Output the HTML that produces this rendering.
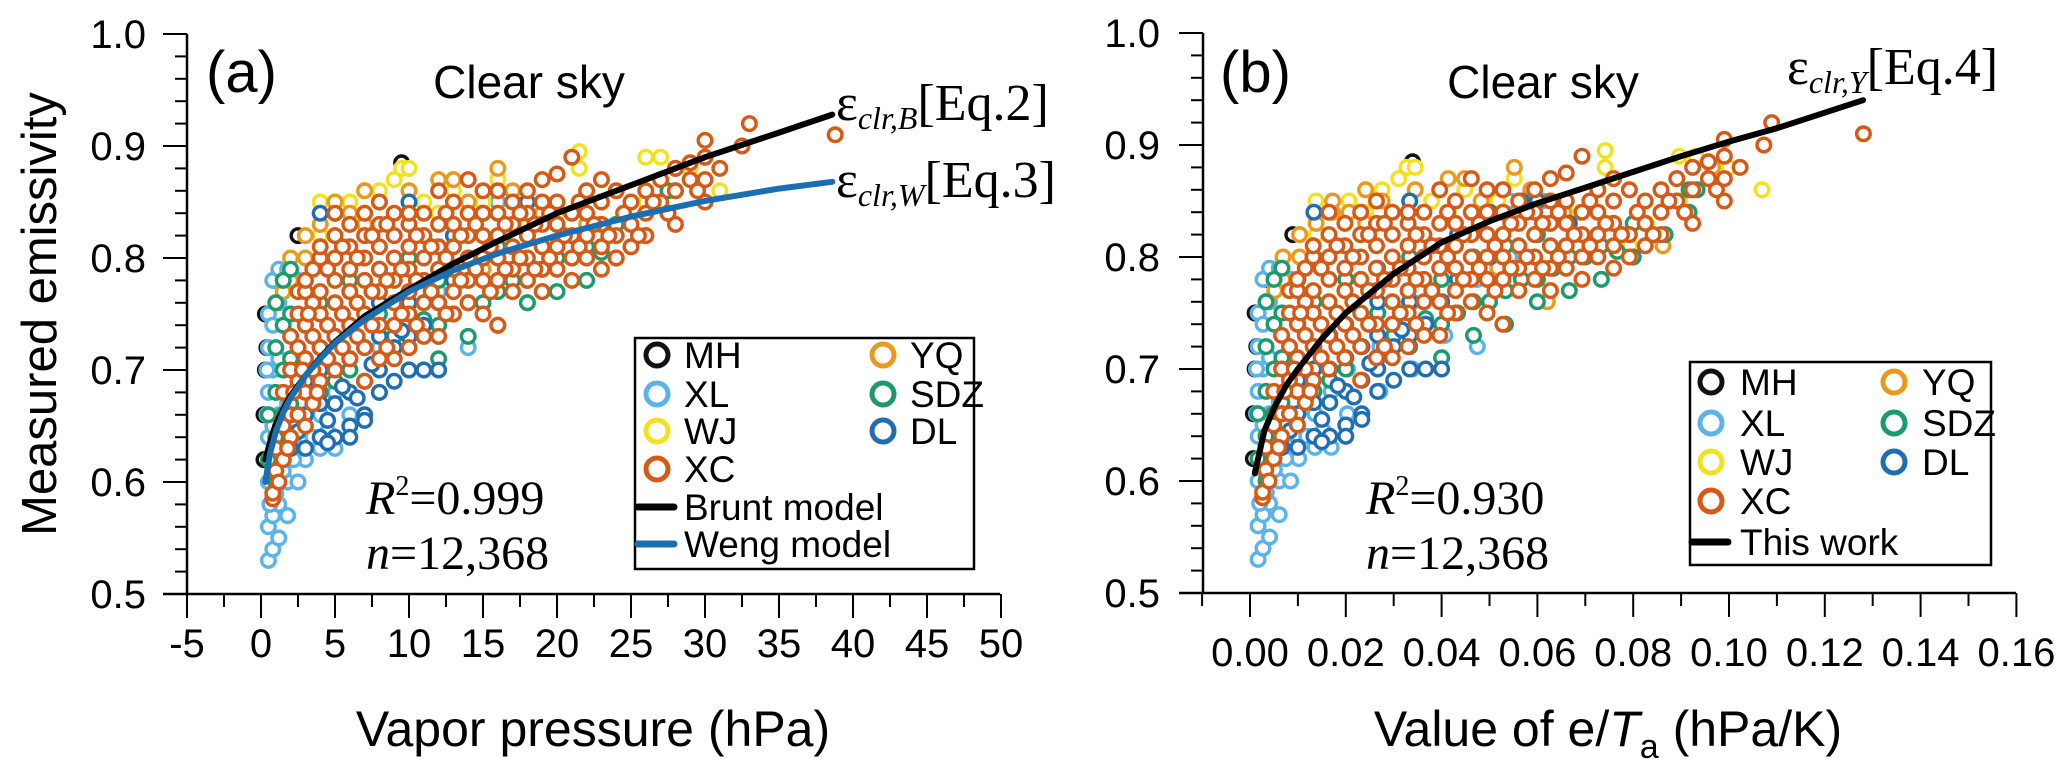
<!DOCTYPE html>
<html><head><meta charset="utf-8"><style>
html,body{margin:0;padding:0;background:#fff;}
svg{display:block;}
text{font-family:"Liberation Sans",Arial,sans-serif;}
.tm{font-family:"Liberation Serif","Times New Roman",serif;}
</style></head><body>
<svg id="chart" width="2067" height="768" viewBox="0 0 2067 768" xmlns="http://www.w3.org/2000/svg">
<g id="pa"></g>
<g id="pb"></g>
</svg>
<script>
// ---- data ----
const siteNames = ["MH","XL","WJ","YQ","SDZ","DL","XC"];
const siteColors = ["#111111","#5ab4ea","#f2e21e","#e99a1c","#1b9b6b","#1f6eb4","#d65a16"];
const siteTa = [280,295,290,290,300,300,303];
const mhPts = [[0.3,0.75],[0.3,0.70],[0.2,0.66],[0.4,0.72],[1,0.78],[2.5,0.82],[9.5,0.885],[0.2,0.62]];
const xlPts = [[0.5,0.53],[0.5,0.56],[0.5,0.60],[0.5,0.64],[0.5,0.68],[0.5,0.72],[0.5,0.75],[0.8,0.54],[0.8,0.57],[0.8,0.61],[0.8,0.65],[0.8,0.70],[0.8,0.74],[0.8,0.78],[1.2,0.55],[1.2,0.58],[1.2,0.62],[1.2,0.66],[1.2,0.71],[1.2,0.76],[1.2,0.79],[1.8,0.57],[1.8,0.60],[1.8,0.63],[1.8,0.67],[1.8,0.79],[2.5,0.60],[2.5,0.63],[2.5,0.66],[2.5,0.78],[3,0.62],[3,0.64],[4,0.63],[4,0.66],[5,0.63],[5,0.68],[6,0.66],[6,0.70],[8,0.68],[8,0.72],[10,0.70],[10,0.76],[12,0.73],[12,0.77],[14,0.72],[14,0.78],[16,0.80],[16,0.85],[18,0.85],[0.6,0.58],[1,0.59],[1.5,0.61],[2.2,0.62],[3.5,0.64],[4.5,0.645],[0.4,0.7],[0.4,0.66]];
const wjPts = [[4,0.82],[4,0.85],[5,0.84],[6,0.85],[7,0.86],[7,0.84],[8,0.86],[9,0.87],[9.5,0.88],[10,0.88],[11,0.85],[12,0.84],[13,0.86],[14,0.84],[15,0.85],[16,0.87],[18,0.83],[20,0.84],[21.5,0.895],[21.5,0.88],[23,0.81],[24,0.83],[26,0.89],[26,0.85],[27,0.89],[29,0.88],[31,0.86]];
const yqPts = [[1,0.76],[1.5,0.77],[2,0.78],[2,0.80],[3,0.80],[3,0.82],[4,0.83],[5,0.84],[5,0.85],[6,0.84],[7,0.86],[7,0.83],[8,0.85],[10,0.86],[12,0.87],[13,0.87],[14,0.85],[16,0.88],[17,0.86],[19,0.84],[22,0.83],[25,0.81],[28,0.88],[18,0.76],[15,0.79]];
const sdzPts = [[0.5,0.62],[0.5,0.66],[1,0.60],[1,0.64],[1,0.68],[1,0.72],[1,0.76],[1.5,0.62],[1.5,0.66],[1.5,0.70],[1.5,0.74],[1.5,0.78],[2,0.63],[2,0.67],[2,0.71],[2,0.75],[2,0.79],[3,0.66],[3,0.70],[3,0.74],[3,0.78],[4,0.68],[4,0.72],[4,0.76],[4,0.80],[6,0.70],[6,0.74],[6,0.78],[8,0.71],[8,0.75],[8,0.79],[10,0.72],[10,0.76],[10,0.80],[12,0.71],[12,0.74],[12,0.78],[14,0.73],[14,0.76],[14,0.80],[16,0.74],[16,0.77],[16,0.81],[18,0.76],[18,0.78],[18,0.82],[20,0.77],[20,0.80],[22,0.78],[22,0.81],[24,0.80],[24,0.83],[26,0.82],[27.5,0.86],[27.5,0.84],[28,0.86],[5,0.69],[7,0.72],[9,0.73],[11,0.745],[13,0.75],[15,0.76],[17,0.78],[19,0.79],[21,0.80],[23,0.805]];
const dlPts = [[2,0.63],[2,0.66],[3,0.63],[3,0.66],[3,0.69],[4,0.64],[4,0.67],[4,0.70],[5,0.64],[5,0.67],[5,0.70],[5,0.73],[6,0.65],[6,0.68],[6,0.71],[7,0.66],[7,0.69],[7,0.72],[8,0.68],[8,0.70],[8,0.73],[8,0.76],[9,0.69],[9,0.72],[10,0.70],[10,0.73],[10,0.76],[11,0.70],[11,0.74],[12,0.70],[12,0.76],[13,0.78],[13,0.82],[15,0.80],[15,0.84],[17,0.85],[18,0.85],[10,0.85],[4,0.84],[20,0.83],[2.5,0.645],[3.5,0.675],[4.5,0.655],[5.5,0.685],[6.5,0.675],[7.5,0.705],[8.5,0.715],[9.5,0.735],[6,0.64],[4.5,0.635],[7,0.655]];
const xcPts = [[0.8,0.585],[0.8,0.59],[1,0.61],[1,0.63],[1.5,0.62],[1.5,0.65],[1.5,0.68],[2,0.64],[2,0.66],[2,0.70],[2,0.73],[2.5,0.66],[2.5,0.69],[2.5,0.72],[2.5,0.75],[2.5,0.77],[3,0.65],[3,0.68],[3,0.71],[3,0.74],[3,0.77],[3,0.78],[3.5,0.67],[3.5,0.70],[3.5,0.73],[3.5,0.76],[3.5,0.79],[4,0.69],[4,0.72],[4,0.75],[4,0.77],[4,0.80],[4,0.81],[5,0.70],[5,0.73],[5,0.76],[5,0.78],[5,0.80],[5,0.82],[5,0.84],[6,0.71],[6,0.74],[6,0.77],[6,0.79],[6,0.81],[6,0.83],[7,0.69],[7,0.72],[7,0.75],[7,0.78],[7,0.80],[7,0.82],[7,0.84],[8,0.71],[8,0.74],[8,0.77],[8,0.79],[8,0.81],[8,0.83],[8,0.85],[9,0.71],[9,0.74],[9,0.76],[9,0.78],[9,0.80],[9,0.82],[9,0.84],[10,0.72],[10,0.75],[10,0.77],[10,0.79],[10,0.81],[10,0.83],[10,0.84],[11,0.73],[11,0.76],[11,0.78],[11,0.80],[11,0.82],[11,0.84],[12,0.73],[12,0.76],[12,0.79],[12,0.81],[12,0.83],[12,0.86],[13,0.75],[13,0.77],[13,0.79],[13,0.81],[13,0.83],[13,0.85],[14,0.76],[14,0.78],[14,0.80],[14,0.82],[14,0.84],[14,0.87],[15,0.75],[15,0.78],[15,0.80],[15,0.82],[15,0.84],[15,0.86],[16,0.74],[16,0.78],[16,0.80],[16,0.82],[16,0.84],[16,0.86],[17,0.77],[17,0.79],[17,0.81],[17,0.83],[17,0.85],[18,0.78],[18,0.80],[18,0.82],[18,0.84],[18,0.86],[19,0.77],[19,0.79],[19,0.81],[19,0.83],[19,0.85],[19,0.87],[20,0.79],[20,0.81],[20,0.83],[20,0.85],[20,0.875],[21,0.78],[21,0.80],[21,0.82],[21,0.84],[21,0.89],[22,0.80],[22,0.82],[22,0.84],[22,0.86],[23,0.79],[23,0.81],[23,0.83],[23,0.85],[23,0.87],[24,0.80],[24,0.82],[24,0.86],[25,0.81],[25,0.83],[25,0.85],[26,0.82],[26,0.84],[26,0.86],[27,0.85],[27,0.87],[28,0.83],[28,0.86],[28,0.88],[29,0.87],[29,0.885],[30,0.85],[30,0.87],[30,0.89],[30,0.905],[31,0.88],[32.5,0.90],[33,0.92],[38.8,0.91],
[1.2,0.60],[1.8,0.63],[2.2,0.68],[2.8,0.70],[3.2,0.75],[3.8,0.68],[4.5,0.71],[4.5,0.74],[4.5,0.79],[5.5,0.72],[5.5,0.75],[5.5,0.81],[6.5,0.73],[6.5,0.76],[6.5,0.80],[7.5,0.74],[7.5,0.77],[7.5,0.82],[8.5,0.72],[8.5,0.78],[8.5,0.83],[9.5,0.75],[9.5,0.79],[10.5,0.74],[10.5,0.78],[10.5,0.82],[11.5,0.77],[11.5,0.81],[12.5,0.75],[12.5,0.80],[12.5,0.84],[13.5,0.78],[13.5,0.82],[14.5,0.79],[14.5,0.83],[15.5,0.77],[15.5,0.81],[16.5,0.79],[16.5,0.83],[17.5,0.80],[17.5,0.84],[18.5,0.79],[18.5,0.83],[19.5,0.80],[19.5,0.84],[20.5,0.82],[21.5,0.81],[21.5,0.85],[22.5,0.83],[23.5,0.82],[24.5,0.84],[25.5,0.82],[26.5,0.85],[27.5,0.84],[29.5,0.86]];
const sitePts = [mhPts,xlPts,wjPts,yqPts,sdzPts,dlPts,xcPts];
const bruntE = [0.3,0.6,1,1.5,2,3,4,5,7,10,13,16,20,25,30,35,38.6];
const bruntV = [0.62,0.635,0.652,0.665,0.677,0.695,0.711,0.725,0.748,0.772,0.795,0.815,0.84,0.865,0.89,0.912,0.928];
const wengE = [0.3,0.6,1,1.5,2,3,4,5,7,10,13,16,20,25,30,35,38.6];
const wengV = [0.60,0.625,0.645,0.662,0.675,0.695,0.71,0.724,0.745,0.77,0.789,0.804,0.82,0.837,0.851,0.862,0.868];
const workX = [0.001,0.003,0.005,0.0075,0.01,0.015,0.02,0.03,0.04,0.05,0.06,0.07,0.08,0.09,0.10,0.11,0.128];
const workV = [0.607,0.645,0.665,0.685,0.70,0.727,0.75,0.785,0.813,0.832,0.848,0.862,0.876,0.89,0.903,0.915,0.94];
const yTicks = ["0.5","0.6","0.7","0.8","0.9","1.0"];
const xTicksA = ["-5","0","5","10","15","20","25","30","35","40","45","50"];
const xTicksB = ["0.00","0.02","0.04","0.06","0.08","0.10","0.12","0.14","0.16"];

const NS="http://www.w3.org/2000/svg";
function mk(parent,tag,attrs,txt){const e=document.createElementNS(NS,tag);for(const k in attrs)e.setAttribute(k,attrs[k]);if(txt!==undefined)e.textContent=txt;parent.appendChild(e);return e;}

const yA = v => 594 - (v-0.5)*1120;
const xA = e => 261 + e*14.8;
const yB = v => 593 - (v-0.5)*1120;
const xB = x => 1250 + x*4790;

function axes(g, X0, X1, Y, yLabRight, xLabels, xMajorPos, xMinorPos, labY){
  const ax = mk(g,'g',{});
   
  mk(ax,'line',{x1:X0,y1:Y(1.0),x2:X0,y2:Y(0.5),stroke:'#000','stroke-width':2.5});
  mk(ax,'line',{x1:X0-24,y1:Y(0.5),x2:X1,y2:Y(0.5),stroke:'#000','stroke-width':2.5});
  for(let i=1;i<=25;i++){const yy=Y(0.5+i*0.02);const major=(i%5===0);
    mk(ax,'line',{x1:X0-(major?24:12),y1:yy,x2:X0,y2:yy,stroke:'#000','stroke-width':2});}
  yTicks.forEach((t,i)=>{const el=mk(ax,'text',{x:yLabRight,y:Y(0.5+i*0.1)+14,'text-anchor':'end','font-size':40},t);
     });
  xMajorPos.forEach(p=>mk(ax,'line',{x1:p,y1:Y(0.5),x2:p,y2:Y(0.5)+24,stroke:'#000','stroke-width':2}));
  xMinorPos.forEach(p=>mk(ax,'line',{x1:p,y1:Y(0.5),x2:p,y2:Y(0.5)+13,stroke:'#000','stroke-width':2}));
  xLabels.forEach((t,i)=>{const el=mk(ax,'text',{x:xMajorPos[i],y:labY,'text-anchor':'middle','font-size':40},t);
     });
}
function scatter(g, X, Y, useRatio){
  sitePts.forEach((pts,si)=>{
    const sg=mk(g,'g',{fill:'#fff',stroke:siteColors[si],'stroke-width':3.4});
     
    pts.forEach(p=>{const xv=useRatio? p[0]/siteTa[si] : p[0];
      const c=mk(sg,'circle',{cx:X(xv).toFixed(1),cy:Y(p[1]).toFixed(1),r:6.8});
       });
  });
}
function curve(g,X,Y,xs,vs,color,name){
  const d=xs.map((x,i)=>(i?'L':'M')+X(x).toFixed(1)+','+Y(vs[i]).toFixed(1)).join(' ');
  const p=mk(g,'path',{d:d,fill:'none',stroke:color,'stroke-width':6,'stroke-linecap':'round','stroke-linejoin':'round'});
   
}
function legend(g,x,y,w,h,rows){
  const lg=mk(g,'g',{});
   
  mk(lg,'rect',{x:x,y:y,width:w,height:h,fill:'#fff',stroke:'#000','stroke-width':2.5});
  rows.forEach(r=>{
    const it=mk(lg,'g',{});
     
    if(r.line) mk(it,'line',{x1:r.mx-18,y1:r.y,x2:r.mx+18,y2:r.y,stroke:r.color,'stroke-width':7,'stroke-linecap':'round'});
    else mk(it,'circle',{cx:r.mx,cy:r.y,r:11,fill:'#fff',stroke:r.color,'stroke-width':5});
    mk(it,'text',{x:r.tx,y:r.y+13,'font-size':37},r.label);
  });
}

// ---- panel a ----
const ga=document.getElementById('pa');
{
  const maj=xTicksA.map((t,i)=>xA(-5+i*5));
  const minr=[]; for(let i=0;i<11;i++) minr.push(xA(-2.5+i*5));
  axes(ga,187,1000,yA,146,xTicksA,maj,minr,657);
  scatter(ga,xA,yA,false);
  curve(ga,xA,yA,bruntE,bruntV,'#000','brunt-curve');
  curve(ga,xA,yA,wengE,wengV,'#1a6fb3','weng-curve');
  const t1=mk(ga,'text',{x:206,y:92,'font-size':58},'(a)');  
  const t2=mk(ga,'text',{x:529,y:98,'font-size':46,'text-anchor':'middle'},'Clear sky');  
  const e1=mk(ga,'text',{x:836,y:120,'font-size':52,'class':'tm'});  
  e1.innerHTML='ε<tspan font-size="32" font-style="italic" dy="9">clr,B</tspan><tspan dy="-9">[Eq.2]</tspan>';
  const e2=mk(ga,'text',{x:836,y:197,'font-size':52,'class':'tm'});  
  e2.innerHTML='ε<tspan font-size="32" font-style="italic" dy="9">clr,W</tspan><tspan dy="-9">[Eq.3]</tspan>';
  const r=mk(ga,'text',{x:366,y:514,'font-size':48,'class':'tm'});  
  r.innerHTML='<tspan font-style="italic">R</tspan><tspan font-size="28" dy="-19">2</tspan><tspan dy="19">=0.999</tspan>';
  const n=mk(ga,'text',{x:366,y:569,'font-size':48,'class':'tm'});  
  n.innerHTML='<tspan font-style="italic">n</tspan>=12,368';
  const yt=mk(ga,'text',{x:0,y:0,'font-size':49,'text-anchor':'middle',transform:'translate(56,314) rotate(-90)'},'Measured emissivity');
   
  const xt=mk(ga,'text',{x:593,y:746,'font-size':50,'text-anchor':'middle'},'Vapor pressure (hPa)');
   
  const rows=[];
  [[0,355],[1,394],[2,431],[6,469]].forEach(a=>rows.push({mx:657,tx:684,y:a[1],color:siteColors[a[0]],label:siteNames[a[0]]}));
  [[3,355],[4,394],[5,431]].forEach(a=>rows.push({mx:883,tx:910,y:a[1],color:siteColors[a[0]],label:siteNames[a[0]]}));
  rows.push({line:true,mx:656,tx:684,y:507,color:'#000',label:'Brunt model'});
  rows.push({line:true,mx:656,tx:684,y:544,color:'#1a6fb3',label:'Weng model'});
  legend(ga,635,338,339,231,rows);
}
// ---- panel b ----
const gb=document.getElementById('pb');
{
  const maj=xTicksB.map((t,i)=>xB(i*0.02));
  const minr=[xB(-0.01)]; for(let i=0;i<8;i++) minr.push(xB(0.01+i*0.02));
  axes(gb,1203,2016,yB,1160,xTicksB,maj,minr,666);
  scatter(gb,xB,yB,true);
  curve(gb,xB,yB,workX,workV,'#000','this-work-curve');
  const t1=mk(gb,'text',{x:1220,y:92,'font-size':58},'(b)');  
  const t2=mk(gb,'text',{x:1543,y:98,'font-size':46,'text-anchor':'middle'},'Clear sky');  
  const e1=mk(gb,'text',{x:1787,y:84,'font-size':52,'class':'tm'});  
  e1.innerHTML='ε<tspan font-size="32" font-style="italic" dy="9">clr,Y</tspan><tspan dy="-9">[Eq.4]</tspan>';
  const r=mk(gb,'text',{x:1366,y:514,'font-size':48,'class':'tm'});  
  r.innerHTML='<tspan font-style="italic">R</tspan><tspan font-size="28" dy="-19">2</tspan><tspan dy="19">=0.930</tspan>';
  const n=mk(gb,'text',{x:1366,y:569,'font-size':48,'class':'tm'});  
  n.innerHTML='<tspan font-style="italic">n</tspan>=12,368';
  const xt=mk(gb,'text',{x:1608,y:746,'font-size':50,'text-anchor':'middle'});  
  xt.innerHTML='Value of e/<tspan font-style="italic">T</tspan><tspan font-size="34" dy="12">a</tspan><tspan dy="-12"> (hPa/K)</tspan>';
  const rows=[];
  [[0,382],[1,423],[2,462],[6,501]].forEach(a=>rows.push({mx:1711,tx:1740,y:a[1],color:siteColors[a[0]],label:siteNames[a[0]]}));
  [[3,382],[4,423],[5,462]].forEach(a=>rows.push({mx:1894,tx:1922,y:a[1],color:siteColors[a[0]],label:siteNames[a[0]]}));
  rows.push({line:true,mx:1710,tx:1740,y:542,color:'#000',label:'This work'});
  legend(gb,1690,362,301,203,rows);
}
</script>
</body></html>
